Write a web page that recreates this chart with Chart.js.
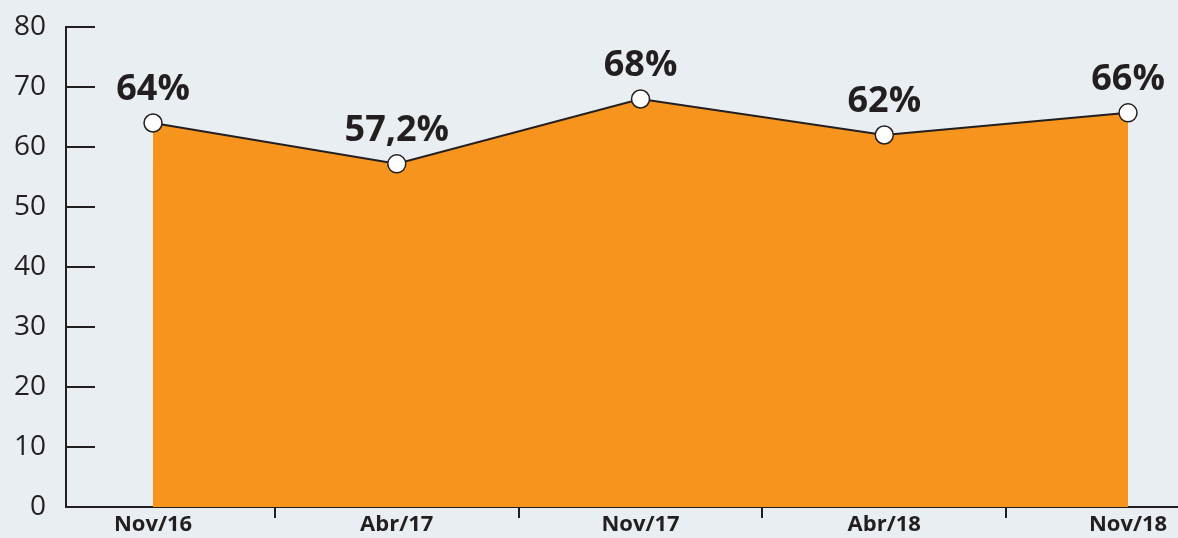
<!DOCTYPE html>
<html>
<head>
<meta charset="utf-8">
<script src="https://cdn.jsdelivr.net/npm/chart.js@4/dist/chart.umd.min.js"></script>
<style>
  html, body { margin: 0; padding: 0; background: #e8eef1; }
  #wrap { width: 1178px; height: 538px; position: relative; }
</style>
</head>
<body>
<div id="wrap"><canvas id="chartArea"></canvas></div>
<script>
// ---- 数据 ----
const PERIODS = ['Nov/16', 'Abr/17', 'Nov/17', 'Abr/18', 'Nov/18'];
const VALUES = [64, 57.2, 68, 62, 65.7];
const VALUE_LABELS = ['64%', '57,2%', '68%', '62%', '66%'];
const Y_TICKS = [0, 10, 20, 30, 40, 50, 60, 70, 80];

const INK = '#231f20';
const ORANGE = '#f7941e';

// y 轴向内的短刻度 + x 轴分隔刻度
const axisMarks = {
    id: 'axisMarks',
    afterDraw(chart) {
        const { ctx, chartArea, scales } = chart;
        ctx.save();
        ctx.strokeStyle = INK;
        ctx.lineWidth = 2;
        scales.y.ticks.forEach(t => {
            const y = Math.round(scales.y.getPixelForValue(t.value));
            ctx.beginPath();
            ctx.moveTo(chartArea.left, y);
            ctx.lineTo(chartArea.left + 29, y);
            ctx.stroke();
        });
        for (let i = 0; i < PERIODS.length - 1; i++) {
            const x = Math.round(scales.x.getPixelForValue(i + 0.5));
            ctx.beginPath();
            ctx.moveTo(x, chartArea.bottom);
            ctx.lineTo(x, chartArea.bottom + 11);
            ctx.stroke();
        }
        ctx.restore();
    }
};

// 数据标签
const valueLabels = {
    id: 'valueLabels',
    afterDatasetsDraw(chart) {
        const { ctx } = chart;
        const meta = chart.getDatasetMeta(0);
        ctx.save();
        ctx.fillStyle = INK;
        ctx.font = "bold 36px 'Open Sans', sans-serif";
        ctx.textAlign = 'center';
        ctx.textBaseline = 'alphabetic';
        meta.data.forEach((pt, i) => {
            ctx.fillText(VALUE_LABELS[i], pt.x, pt.y - 23);
        });
        ctx.restore();
    }
};

new Chart(document.getElementById('chartArea'), {
    type: 'line',
    data: {
        datasets: [{
            data: VALUES.map((v, i) => ({ x: i, y: v })),
            borderColor: INK,
            borderWidth: 2,
            backgroundColor: ORANGE,
            fill: 'origin',
            tension: 0,
            clip: false,
            pointRadius: 9,
            pointBackgroundColor: '#ffffff',
            pointBorderColor: INK,
            pointBorderWidth: 1.5,
        }]
    },
    options: {
        responsive: true, maintainAspectRatio: false,
        animation: false,
        layout: { autoPadding: false, padding: { top: 27, left: 0, right: 0, bottom: 0 } },
        plugins: { legend: { display: false }, tooltip: { enabled: false } },
        scales: {
            x: {
                type: 'linear',
                min: -0.357, max: 4.205,
                afterBuildTicks: s => { s.ticks = PERIODS.map((_, i) => ({ value: i })); },
                afterFit: s => { s.height = 31; s.paddingLeft = 0; s.paddingRight = 0; },
                ticks: {
                    callback: v => PERIODS[v],
                    color: INK,
                    font: { family: "'Open Sans', sans-serif", size: 22, weight: 'bold' },
                    padding: 5,
                    maxRotation: 0,
                    autoSkip: false,
                },
                grid: { display: false, drawTicks: false },
                border: { display: true, color: INK, width: 2 }
            },
            y: {
                min: 0, max: 80,
                afterBuildTicks: s => { s.ticks = Y_TICKS.map(v => ({ value: v })); },
                afterFit: s => { s.width = 66; s.paddingTop = 0; s.paddingBottom = 0; },
                ticks: {
                    color: INK,
                    font: { family: "'Open Sans', sans-serif", size: 28 },
                    padding: 20,
                },
                grid: { display: false, drawTicks: false },
                border: { display: true, color: INK, width: 2 }
            }
        }
    },
    plugins: [axisMarks, valueLabels]
});
</script>
</body>
</html>
